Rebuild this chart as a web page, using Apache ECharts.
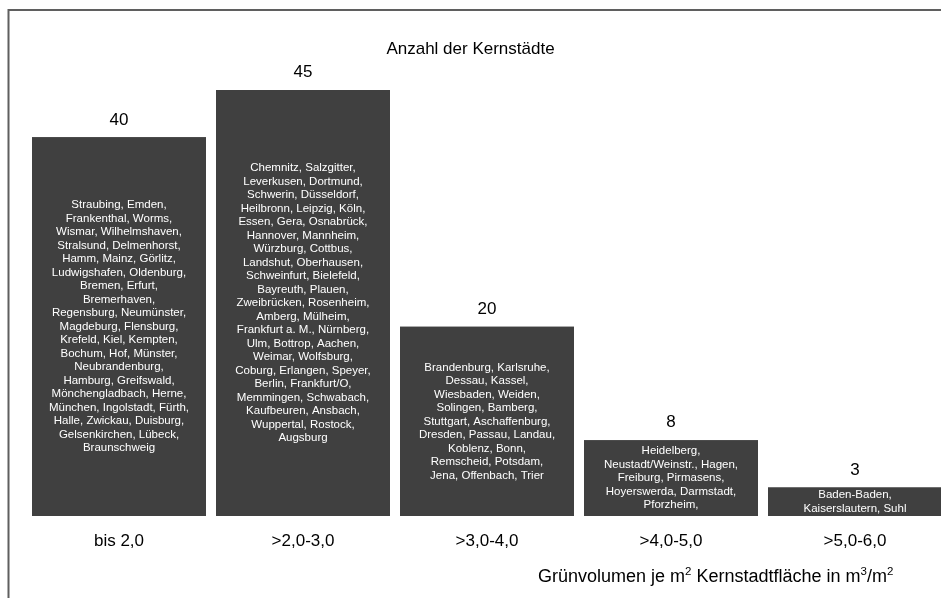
<!DOCTYPE html>
<html>
<head>
<meta charset="utf-8">
<script src="https://cdn.jsdelivr.net/npm/echarts@6/dist/echarts.min.js"></script>
<style>
  html, body { margin: 0; padding: 0; background: #fff; }
</style>
</head>
<body>
<!-- Chart container -->
<div id="main" style="width: 941px; height: 598px"></div>
<script>
// Klassen Grünvolumen je m2 Kernstadtfläche
var categories = ["bis 2,0", ">2,0-3,0", ">3,0-4,0", ">4,0-5,0", ">5,0-6,0"];
// Anzahl der Kernstädte je Klasse
var counts = [40, 45, 20, 8, 3];
// Städte je Klasse (Zeilenumbrüche wie im Original)
var citiesBis2 = [
  "Straubing, Emden,", "Frankenthal, Worms,", "Wismar, Wilhelmshaven,",
  "Stralsund, Delmenhorst,", "Hamm, Mainz, Görlitz,", "Ludwigshafen, Oldenburg,",
  "Bremen, Erfurt,", "Bremerhaven,", "Regensburg, Neumünster,",
  "Magdeburg, Flensburg,", "Krefeld, Kiel, Kempten,", "Bochum, Hof, Münster,",
  "Neubrandenburg,", "Hamburg, Greifswald,", "Mönchengladbach, Herne,",
  "München, Ingolstadt, Fürth,", "Halle, Zwickau, Duisburg,", "Gelsenkirchen, Lübeck,",
  "Braunschweig"
];
var cities2bis3 = [
  "Chemnitz, Salzgitter,", "Leverkusen, Dortmund,", "Schwerin, Düsseldorf,",
  "Heilbronn, Leipzig, Köln,", "Essen, Gera, Osnabrück,", "Hannover, Mannheim,",
  "Würzburg, Cottbus,", "Landshut, Oberhausen,", "Schweinfurt, Bielefeld,",
  "Bayreuth, Plauen,", "Zweibrücken, Rosenheim,", "Amberg, Mülheim,",
  "Frankfurt a. M., Nürnberg,", "Ulm, Bottrop, Aachen,", "Weimar, Wolfsburg,",
  "Coburg, Erlangen, Speyer,", "Berlin, Frankfurt/O,", "Memmingen, Schwabach,",
  "Kaufbeuren, Ansbach,", "Wuppertal, Rostock,", "Augsburg"
];
var cities3bis4 = [
  "Brandenburg, Karlsruhe,", "Dessau, Kassel,", "Wiesbaden, Weiden,",
  "Solingen, Bamberg,", "Stuttgart, Aschaffenburg,", "Dresden, Passau, Landau,",
  "Koblenz, Bonn,", "Remscheid, Potsdam,", "Jena, Offenbach, Trier"
];
var cities4bis5 = [
  "Heidelberg,", "Neustadt/Weinstr., Hagen,", "Freiburg, Pirmasens,",
  "Hoyerswerda, Darmstadt,", "Pforzheim,"
];
var cities5bis6 = ["Baden-Baden,", "Kaiserslautern, Suhl"];
var cityLists = [citiesBis2, cities2bis3, cities3bis4, cities4bis5, cities5bis6];

var font = "'Liberation Sans', Arial, sans-serif";
var barColor = "#404040";

var myChart = echarts.init(document.getElementById("main"), null, { renderer: "canvas" });

var option = {
  backgroundColor: "#fff",
  animation: false,
  title: [
    {
      text: "Anzahl der Kernstädte",
      left: "center",
      top: 36,
      textStyle: { fontFamily: font, fontSize: 17, fontWeight: "normal", color: "#000" }
    },
    {
      // Achsentitel mit Hochstellungen
      text: "{a|Grünvolumen je m}{s|2}{a| Kernstadtfläche in m}{s|3}{a|/m}{s|2}",
      left: 533,
      top: 561,
      textStyle: {
        fontFamily: font,
        fontWeight: "normal",
        color: "#000",
        rich: {
          a: { fontFamily: font, fontSize: 18, fontWeight: "normal", color: "#000", lineHeight: 20, verticalAlign: "bottom" },
          s: { fontFamily: font, fontSize: 11.5, fontWeight: "normal", color: "#000", lineHeight: 20, verticalAlign: "top" }
        }
      }
    }
  ],
  graphic: [
    {
      type: "rect",
      silent: true,
      shape: { x: 8.5, y: 10, width: 1200, height: 1200 },
      style: { fill: null, stroke: "#5f5f5f", lineWidth: 2 }
    }
  ],
  // Raster darf rechts über den Rand hinausgehen
  grid: { left: 27, width: 920, top: 90, bottom: 82, containLabel: false, outerBoundsMode: "none" },
  xAxis: {
    type: "category",
    data: categories,
    axisLine: { show: false },
    axisTick: { show: false },
    axisLabel: { margin: 17, color: "#000", fontFamily: font, fontSize: 17 }
  },
  yAxis: {
    type: "value",
    min: 0,
    max: 45,
    show: false,
    splitLine: { show: false }
  },
  series: [
    {
      // Säulen mit Anzahl oben
      type: "bar",
      data: counts,
      barWidth: 174,
      itemStyle: { color: barColor },
      label: {
        show: true,
        position: "top",
        distance: 9,
        color: "#000",
        fontFamily: font,
        fontSize: 17
      }
    },
    {
      // gleiche Säulen, darin die Städtenamen
      type: "bar",
      data: counts,
      barWidth: 174,
      barGap: "-100%",
      itemStyle: { color: barColor },
      label: {
        show: true,
        position: "inside",
        color: "#fff",
        fontFamily: font,
        fontSize: 11.5,
        lineHeight: 13.5,
        align: "center",
        formatter: function (p) {
          return cityLists[p.dataIndex].join("\n");
        }
      }
    }
  ]
};

myChart.setOption(option);
</script>
</body>
</html>
